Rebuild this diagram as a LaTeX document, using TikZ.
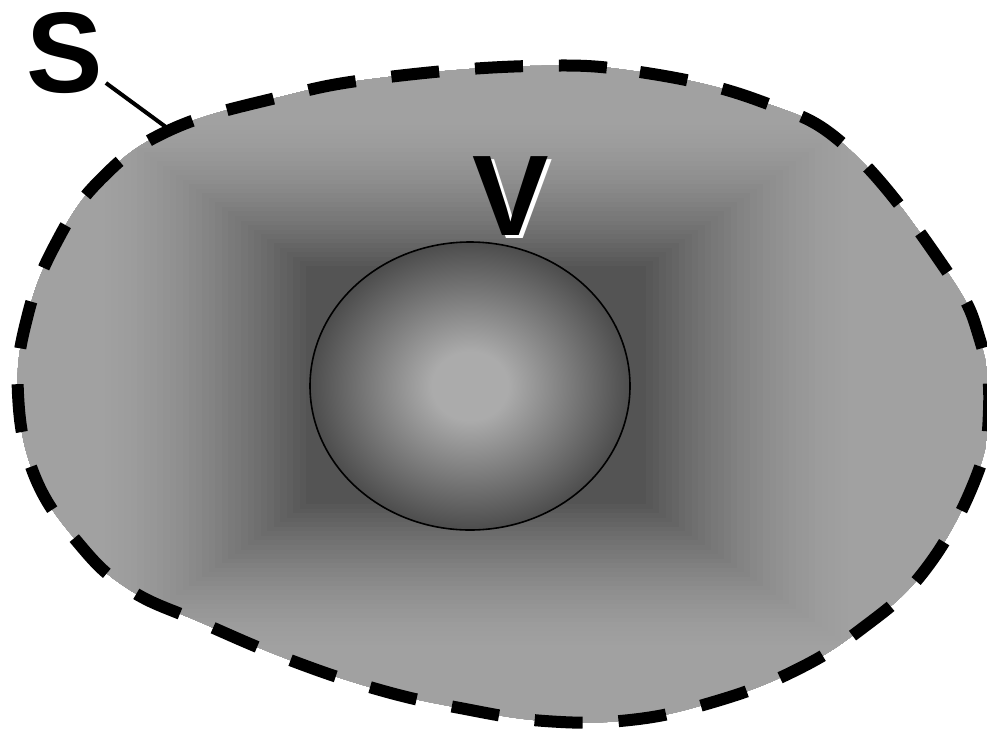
\documentclass[tikz,border=0pt]{standalone}
\usepackage{fontspec}
\setmainfont{Liberation Sans}
\usetikzlibrary{shapes.geometric}
\definecolor{ballin}{gray}{0.67}
\definecolor{ballout}{gray}{0.30}
\pgfdeclareradialshading{ballshading}{\pgfpoint{0bp}{0bp}}{color(0bp)=(ballin); color(6bp)=(ballin); color(25bp)=(ballout); color(50bp)=(ballout)}
\tikzset{
  biglabel/.style={font=\fontsize{86}{86}\selectfont\bfseries, inner sep=0pt, outer sep=2pt},
  boundary/.style={line width=9pt, dash pattern=on 36pt off 27pt, black},
  leader/.style={line width=3pt, black},
}
\begin{document}
\begin{tikzpicture}[x=0.75pt,y=-0.75pt]
\useasboundingbox (0,0) rectangle (987,729);
% shaded region
\begin{scope}
\clip plot[smooth cycle, tension=0.7] coordinates {
 (530,66) (640,72) (760,101) (850,150) (946,270) (980,340) (989,410) (975,480)
 (925,570) (860,630) (790,673) (710,703) (630,720) (545,721) (460,708) (380,690)
 (290,660) (200,622) (130,590) (80,545) (35,477) (18,394) (27,318) (55,245)
 (100,180) (170,130) (280,97) (380,78)};
\foreach \i in {0,...,60}{
  \pgfmathsetmacro\a{560-6.5*\i}
  \pgfmathsetmacro\t{max(0,min(1,(380-\a)/210))}
  \pgfmathsetmacro\p{37+30*\t^1.5}
  \fill[black!\p] ({476-\a},{385-0.7*\a}) rectangle ({476+\a},{385+0.7*\a});
}
\end{scope}
\draw[boundary] plot[smooth cycle, tension=0.7] coordinates {
 (530,66) (640,72) (760,101) (850,150) (946,270) (980,340) (989,410) (975,480)
 (925,570) (860,630) (790,673) (710,703) (630,720) (545,721) (460,708) (380,690)
 (290,660) (200,622) (130,590) (80,545) (35,477) (18,394) (27,318) (55,245)
 (100,180) (170,130) (280,97) (380,78)};
% inner ball
\node[ellipse, draw=black, line width=1.2pt, shade, shading=ballshading,
      minimum width=240pt, minimum height=216pt, inner sep=0pt] (ball) at (470,386) {};
% labels
\node[biglabel, text=white] (Vshadow) at (515,199) {V};
\node[biglabel, text=black] (V) at (511,196) {V};
\node[biglabel, text=black] (S) at (65,53) {S};
\coordinate (Send) at (170,130);
\draw[leader] (S) -- (Send);
\end{tikzpicture}
\end{document}
